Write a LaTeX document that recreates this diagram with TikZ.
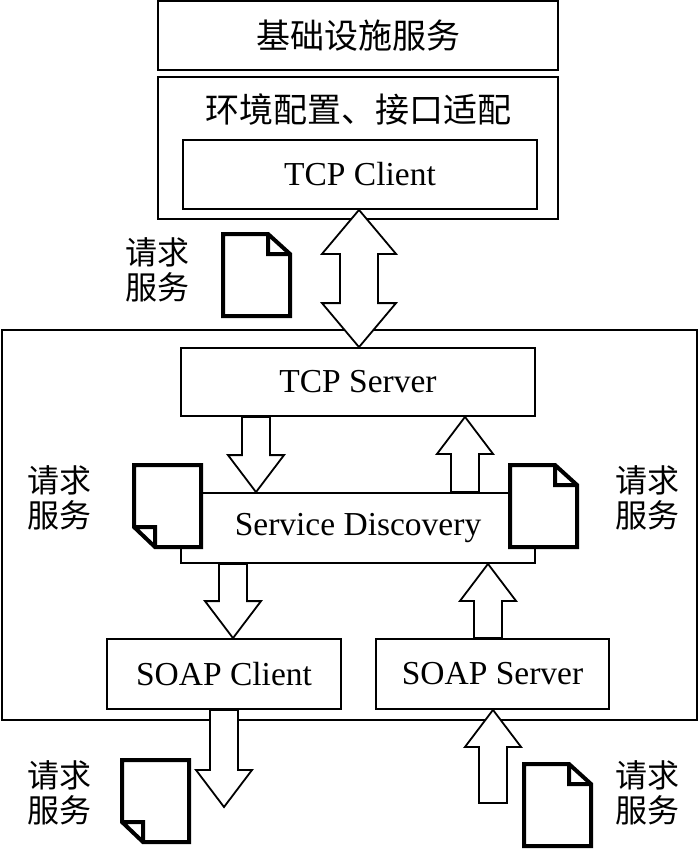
\documentclass[tikz,border=0pt]{standalone}
\usepackage{fontspec}
\setmainfont{Liberation Serif}
\newfontfamily\cjk{Noto Sans CJK SC}
\usetikzlibrary{calc}
\newcommand{\fatarrow}[2]{%
  \draw[arrowline] let \p1=(#1), \p2=(#2), \p3=($(#2)!37pt!(#1)$) in
    (\x1-14pt,\y1) -- (\x1-14pt,\y3) -- (\x1-28pt,\y3) -- (\x1,\y2)
    -- (\x1+28pt,\y3) -- (\x1+14pt,\y3) -- (\x1+14pt,\y1) -- cycle;}
\newcommand{\dblarrow}[2]{%
  \draw[arrowline] let \p1=(#1), \p2=(#2) in
    (\x1,\y1) -- (\x1+37pt,\y1-44pt) -- (\x1+19pt,\y1-44pt) -- (\x1+19pt,\y2+44pt)
    -- (\x1+37pt,\y2+44pt) -- (\x1,\y2) -- (\x1-37pt,\y2+44pt) -- (\x1-19pt,\y2+44pt)
    -- (\x1-19pt,\y1-44pt) -- (\x1-37pt,\y1-44pt) -- cycle;}
\begin{document}
\begin{tikzpicture}[x=1pt,y=-1pt,
    box/.style={draw,line width=1.8pt,fill=white,inner sep=0pt,font=\fontsize{33.5}{36}\selectfont},
    arrowline/.style={line width=1.8pt,fill=white,line join=miter},
    docline/.style={line width=4pt,fill=white,line join=miter},
    req/.style={align=center,font=\cjk\fontsize{32}{35}\selectfont},
    pagetr/.pic={\draw[docline] (0,0) -- (45,0) -- (67,20) -- (67,82) -- (0,82) -- cycle
      (45,0) -- (45,20) -- (67,20);},
    pagebl/.pic={\draw[docline] (0,0) -- (67,0) -- (67,82) -- (21,82) -- (0,62) -- cycle
      (0,62) -- (21,62) -- (21,82);}]
  \useasboundingbox (0,0) rectangle (700,850);
  \node[box,minimum width=695pt,minimum height=390pt] (sys) at (349.5,525) {};
  \node[box,minimum width=400pt,minimum height=69pt,font=\cjk\fontsize{34}{36}\selectfont] (infra) at (358,35.5) {基础设施服务};
  \node[box,minimum width=400pt,minimum height=142pt] (env) at (358,148) {};
  \node[font=\cjk\fontsize{34}{36}\selectfont] (envlabel) at (358,110) {环境配置、接口适配};
  \node[box,minimum width=354pt,minimum height=69pt] (tcpc) at (360,174.5) {TCP Client};
  \node[box,minimum width=354pt,minimum height=68pt] (tcps) at (358,382) {TCP Server};
  \node[box,minimum width=354pt,minimum height=70pt] (sd) at (358,528) {Service Discovery};
  \node[box,minimum width=234pt,minimum height=70pt] (soapc) at (224,674) {SOAP Client};
  \node[box,minimum width=233pt,minimum height=70pt] (soaps) at (492.5,674) {SOAP Server};
  \coordinate (ax) at (359,0);
  \coordinate (a1) at (256,0);
  \coordinate (a2) at (465,0);
  \coordinate (a3) at (233,0);
  \coordinate (a4) at (488,0);
  \coordinate (reqout) at (224,807);
  \coordinate (reqin) at (493,803);
  \dblarrow{tcpc.south -| ax}{tcps.north -| ax}
  \fatarrow{tcps.south -| a1}{sd.north -| a1}
  \fatarrow{sd.north -| a2}{tcps.south -| a2}
  \fatarrow{sd.south -| a3}{soapc.north -| a3}
  \fatarrow{soaps.north -| a4}{sd.south -| a4}
  \fatarrow{soapc.south -| reqout}{reqout}
  \fatarrow{reqin}{soaps.south -| reqin}
  \pic at (223,234) {pagetr};
  \pic at (134,465) {pagebl};
  \pic at (510,465) {pagetr};
  \pic at (122,760) {pagebl};
  \pic at (524,764) {pagetr};
  \node[req] (req1) at (157,270) {请求\\服务};
  \node[req] (req2) at (59.5,498) {请求\\服务};
  \node[req] (req3) at (647.5,498) {请求\\服务};
  \node[req] (req4) at (59.5,793) {请求\\服务};
  \node[req] (req5) at (647.5,793) {请求\\服务};
\end{tikzpicture}
\end{document}
